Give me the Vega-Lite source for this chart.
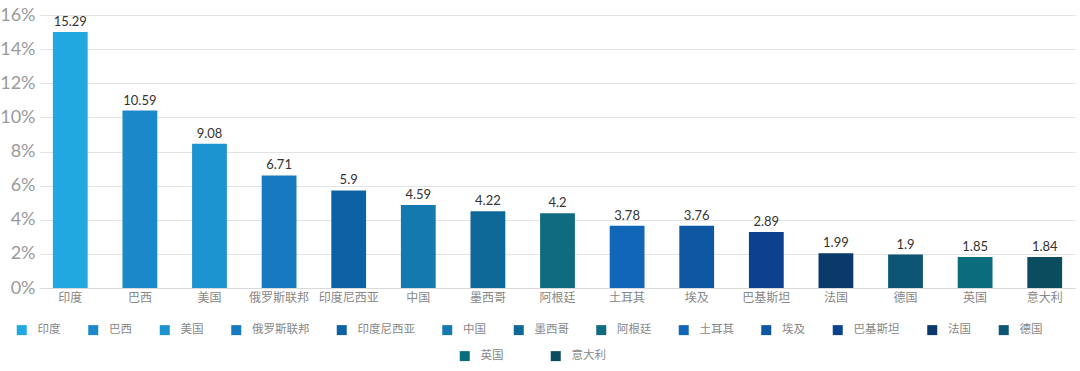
{
  "$schema": "https://vega.github.io/schema/vega-lite/v6.json",
  "autosize": "none",
  "width": 1035,
  "height": 273,
  "padding": {"left": 40, "top": 15, "right": 5, "bottom": 83},
  "background": "white",
  "config": {
    "view": {"stroke": null},
    "font": "Noto Sans CJK SC",
    "legend": {
      "title": null,
      "orient": "none",
      "direction": "horizontal",
      "symbolType": "square",
      "symbolSize": 100,
      "symbolStrokeWidth": 0,
      "labelFontSize": 11.5,
      "labelColor": "#888888",
      "labelOffset": 10
    }
  },
  "data": {
    "values": [
      {"country": "印度", "share": 15.0, "label": "15.29"},
      {"country": "巴西", "share": 10.4, "label": "10.59"},
      {"country": "美国", "share": 8.45, "label": "9.08"},
      {"country": "俄罗斯联邦", "share": 6.6, "label": "6.71"},
      {"country": "印度尼西亚", "share": 5.72, "label": "5.9"},
      {"country": "中国", "share": 4.87, "label": "4.59"},
      {"country": "墨西哥", "share": 4.5, "label": "4.22"},
      {"country": "阿根廷", "share": 4.38, "label": "4.2"},
      {"country": "土耳其", "share": 3.65, "label": "3.78"},
      {"country": "埃及", "share": 3.65, "label": "3.76"},
      {"country": "巴基斯坦", "share": 3.28, "label": "2.89"},
      {"country": "法国", "share": 2.03, "label": "1.99"},
      {"country": "德国", "share": 1.96, "label": "1.9"},
      {"country": "英国", "share": 1.82, "label": "1.85"},
      {"country": "意大利", "share": 1.82, "label": "1.84"}
    ]
  },
  "encoding": {
    "x": {
      "field": "country",
      "type": "nominal",
      "sort": null,
      "scale": {
        "domain": ["印度", "巴西", "美国", "俄罗斯联邦", "印度尼西亚", "中国", "墨西哥", "阿根廷", "土耳其", "埃及", "巴基斯坦", "法国", "德国", "英国", "意大利"],
        "paddingInner": 0.5,
        "paddingOuter": 0.185
      },
      "axis": {
        "title": null,
        "labelAngle": 0,
        "labelFontSize": 12,
        "labelColor": "#888888",
        "labelPadding": 4,
        "ticks": false,
        "domainColor": "#d9d9d9"
      }
    },
    "y": {
      "field": "share",
      "type": "quantitative",
      "scale": {"domain": [0, 16], "nice": false},
      "axis": {
        "title": null,
        "values": [0, 2, 4, 6, 8, 10, 12, 14, 16],
        "labelExpr": "datum.value + '%'",
        "labelFont": "Lato",
        "labelFontSize": 18,
        "labelColor": "#9a9a9a",
        "labelPadding": 5,
        "labelOverlap": false,
        "labelFlush": false,
        "labelBound": false,
        "ticks": false,
        "domain": false,
        "gridColor": "#e3e3e3"
      }
    }
  },
  "layer": [
    {
      "transform": [{"filter": {"not": {"field": "country", "oneOf": ["英国", "意大利"]}}}],
      "mark": {"type": "bar"},
      "encoding": {
        "color": {
          "field": "country",
          "type": "nominal",
          "sort": null,
          "scale": {
            "domain": ["印度", "巴西", "美国", "俄罗斯联邦", "印度尼西亚", "中国", "墨西哥", "阿根廷", "土耳其", "埃及", "巴基斯坦", "法国", "德国"],
            "range": ["#22A8E1", "#1B88CA", "#1C94D0", "#1779BF", "#0D62A5", "#1379AE", "#0E6898", "#0F6B80", "#1266B7", "#0F57A1", "#0B418E", "#0A3A6A", "#0C5573"]
          },
          "legend": {
            "legendX": -24,
            "legendY": 309,
            "columns": 13,
            "columnPadding": 26.5
          }
        }
      }
    },
    {
      "transform": [{"filter": {"field": "country", "oneOf": ["英国", "意大利"]}}],
      "mark": {"type": "bar"},
      "encoding": {
        "color": {
          "field": "country",
          "type": "nominal",
          "sort": null,
          "scale": {
            "domain": ["英国", "意大利"],
            "range": ["#0B6C7E", "#0B4C5F"]
          },
          "legend": {
            "legendX": 419,
            "legendY": 335,
            "columns": 2,
            "columnPadding": 46
          }
        }
      }
    },
    {
      "mark": {"type": "text", "baseline": "bottom", "dy": -3, "fontSize": 13, "color": "#333333", "font": "Lato"},
      "encoding": {
        "text": {"field": "label", "type": "nominal"}
      }
    }
  ],
  "resolve": {"scale": {"color": "independent"}, "legend": {"color": "independent"}}
}
